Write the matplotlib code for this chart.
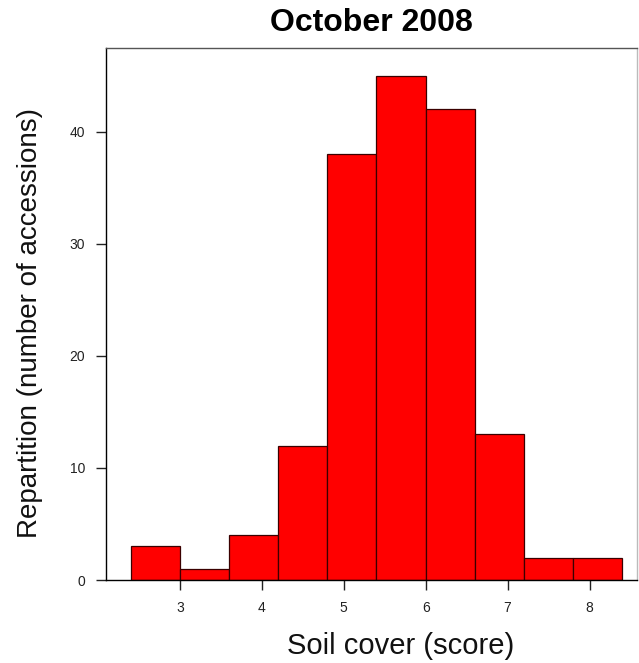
import matplotlib
matplotlib.use("Agg")
import matplotlib.pyplot as plt
import numpy as np

bin_edges = [2.4, 3.0, 3.6, 4.2, 4.8, 5.4, 6.0, 6.6, 7.2, 7.8, 8.4]
counts = [3, 1, 4, 12, 38, 45, 42, 13, 2, 2]
x_ticks = [3, 4, 5, 6, 7, 8]
y_ticks = [0, 10, 20, 30, 40]

plt.rcParams['font.family'] = ['Liberation Sans', 'DejaVu Sans']

fig = plt.figure(figsize=(6.39, 6.63), dpi=100)
ax = fig.add_axes([0.166, 0.125, 0.831, 0.8025])

edges = np.array(bin_edges)
ax.bar(edges[:-1], counts, width=np.diff(edges), align='edge',
       color='#ff0000', edgecolor='#3a0000', linewidth=0.9)

ax.set_xlim(2.1, 8.58)
ax.set_ylim(0, 47.45)
ax.set_xticks(x_ticks)
ax.set_yticks(y_ticks)
ax.tick_params(axis='both', labelsize=10, length=7, width=1, colors='#222222', pad=8)
for s in ax.spines.values():
    s.set_linewidth(1.0)
ax.spines['right'].set_color('#bbbbbb')
ax.spines['top'].set_color('#555555')

ax.set_title('October 2008', fontsize=23, fontweight='bold', pad=12)
ax.set_xlabel('Soil cover (score)', fontsize=21, labelpad=12, color='#111111')
ax.set_ylabel('Repartition (number of accessions)', fontsize=20, labelpad=19, color='#111111')
ax.xaxis.label.set_x(0.554)
ax.yaxis.label.set_y(0.483)

fig.savefig('out.png', dpi=100)
